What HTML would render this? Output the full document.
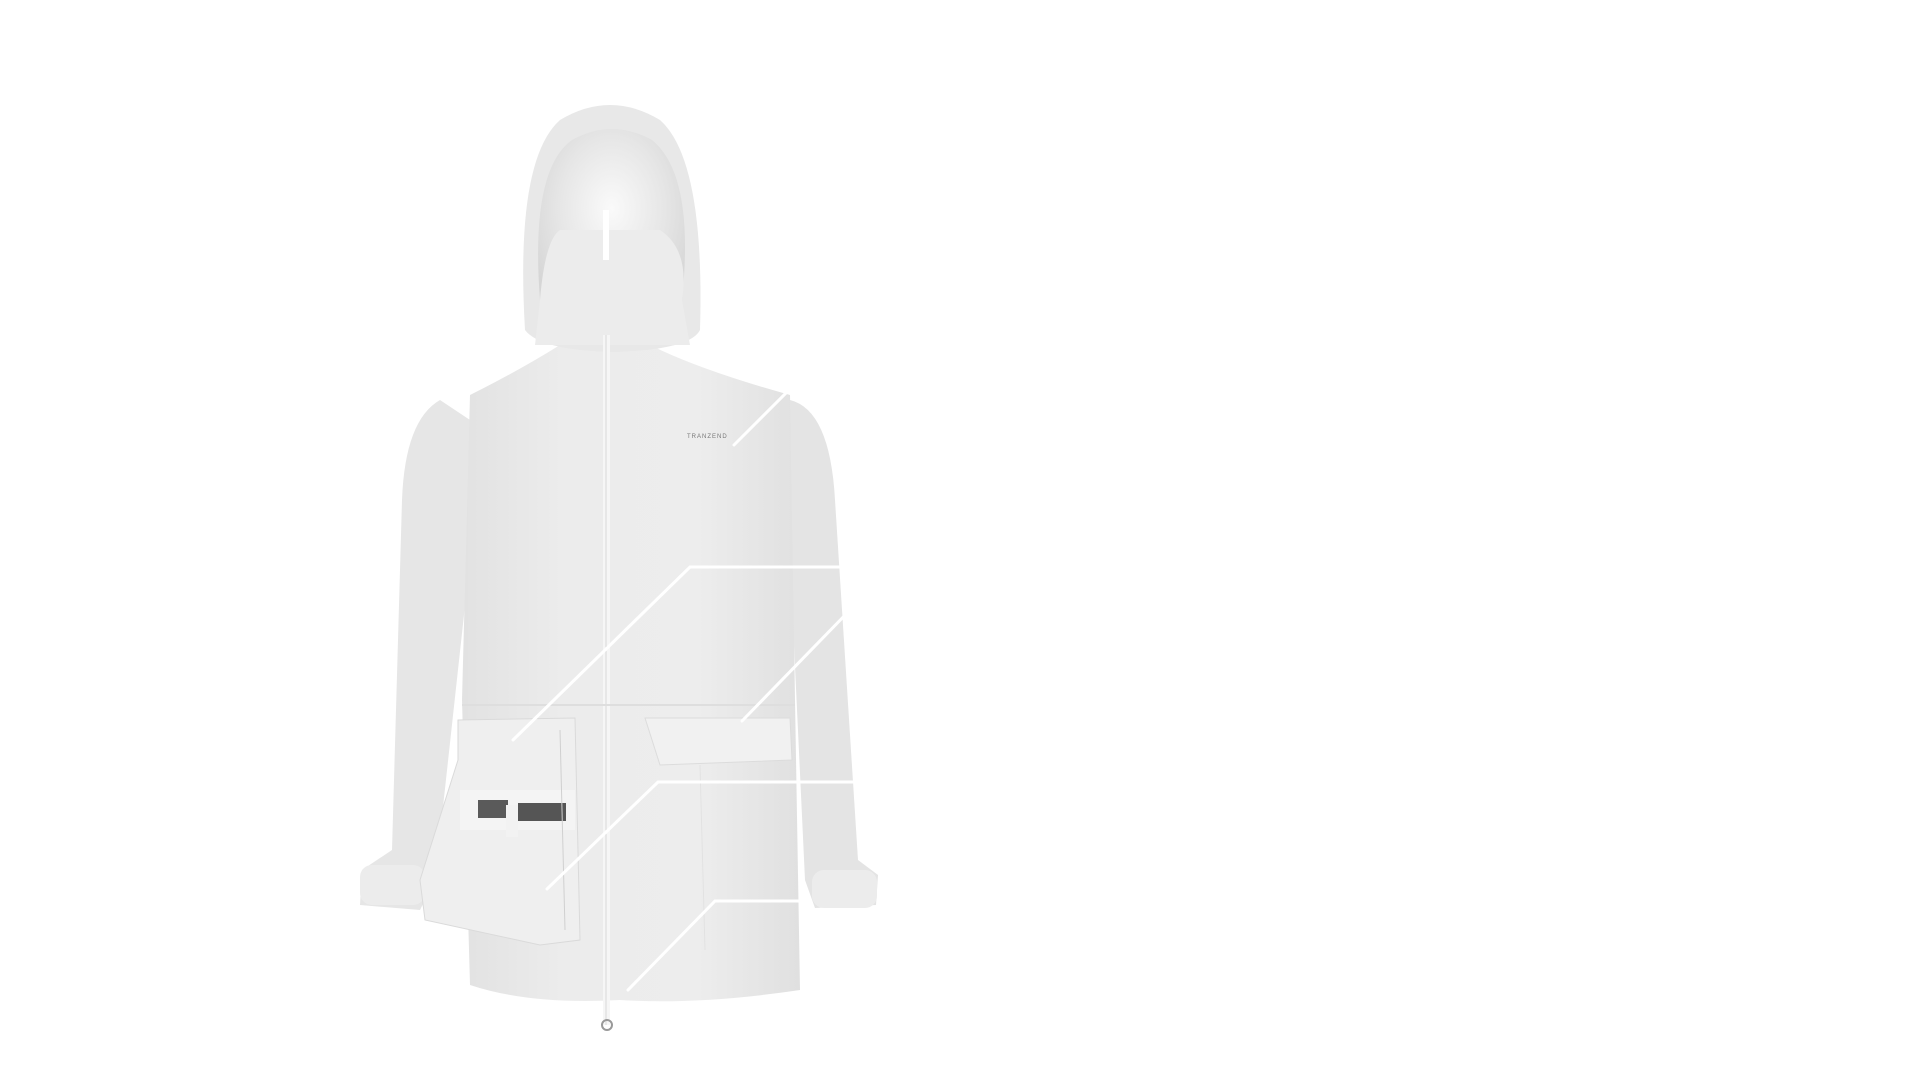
<!DOCTYPE html>
<html><head><meta charset="utf-8"><style>
html,body{margin:0;padding:0;background:#fff;width:1920px;height:1080px;overflow:hidden}
svg{display:block}
</style></head><body>
<svg width="1920" height="1080" viewBox="0 0 1920 1080" xmlns="http://www.w3.org/2000/svg">
<defs>
<linearGradient id="b" x1="0" x2="1">
<stop offset="0" stop-color="#e2e2e2"/><stop offset="0.3" stop-color="#ececec"/><stop offset="0.7" stop-color="#ededed"/><stop offset="1" stop-color="#e0e0e0"/>
</linearGradient>
<radialGradient id="h" cx="0.5" cy="0.4" r="0.6">
<stop offset="0" stop-color="#fafafa"/><stop offset="0.6" stop-color="#e6e6e6"/><stop offset="1" stop-color="#d6d6d6"/>
</radialGradient>
</defs>
<!-- sleeves -->
<path d="M440 400 Q405 420 402 500 L392 850 L362 870 L360 905 L420 910 L435 880 L470 560 L470 420 Z" fill="#e6e6e6"/>
<path d="M790 400 Q830 410 835 500 L858 860 L878 875 L876 905 L815 908 L805 880 L790 560 Z" fill="#e4e4e4"/>
<rect x="360" y="865" width="65" height="40" rx="12" fill="#ececec"/>
<rect x="812" y="870" width="65" height="38" rx="12" fill="#ececec"/>
<!-- body -->
<path d="M470 395 Q520 370 560 345 L650 345 Q700 370 790 395 L795 700 L800 990 Q700 1005 620 1000 Q530 1005 470 985 L462 700 Z" fill="url(#b)"/>
<!-- hood -->
<path d="M525 330 Q515 160 560 120 Q610 90 660 120 Q705 160 700 330 Q690 350 612 352 Q540 350 525 330 Z" fill="#e8e8e8"/>
<path d="M540 300 Q530 170 572 140 Q612 118 652 140 Q695 175 682 300 Q640 330 612 328 Q575 328 540 300 Z" fill="url(#h)"/>
<path d="M540 300 Q545 240 560 230 L660 230 Q690 250 682 300 L690 345 L535 345 Z" fill="#ececec"/>
<rect x="603" y="210" width="6" height="50" fill="#fff"/>
<!-- zipper -->
<rect x="603" y="335" width="7" height="690" fill="#f6f6f6"/>
<line x1="606" y1="335" x2="606" y2="1025" stroke="#d8d8d8" stroke-width="1"/>
<circle cx="607" cy="1025" r="5" fill="none" stroke="#999" stroke-width="2"/>
<!-- logo -->
<text x="687" y="438" font-family="Liberation Sans, sans-serif" font-size="6" fill="#777" letter-spacing="1">TRANZEND</text>
<!-- waist seam -->
<line x1="462" y1="705" x2="795" y2="705" stroke="#dedede" stroke-width="2"/>
<!-- right flap -->
<path d="M645 718 L790 718 L792 760 L660 765 Z" fill="#f1f1f1" stroke="#dcdcdc"/>
<line x1="700" y1="765" x2="705" y2="950" stroke="#e2e2e2"/>
<!-- left pouch -->
<path d="M458 720 L575 718 L580 940 L540 945 L425 920 L420 880 L458 760 Z" fill="#efefef" stroke="#dadada"/>
<rect x="460" y="790" width="115" height="40" fill="#f4f4f4"/>
<rect x="478" y="800" width="30" height="18" fill="#5a5a5a"/>
<rect x="518" y="803" width="48" height="18" fill="#555"/>
<rect x="506" y="805" width="12" height="32" fill="#f2f2f2"/>
<line x1="560" y1="730" x2="565" y2="930" stroke="#d0d0d0"/>
<!-- callout lines -->
<g stroke="#fff" stroke-width="3" fill="none" stroke-linecap="round">
<polyline points="734,445 802,377"/>
<polyline points="513,740 690,567 845,567"/>
<polyline points="742,721 851,609"/>
<polyline points="547,889 658,782 875,782"/>
<polyline points="628,990 715,901 800,901"/>
</g>
</svg>
</body></html>
